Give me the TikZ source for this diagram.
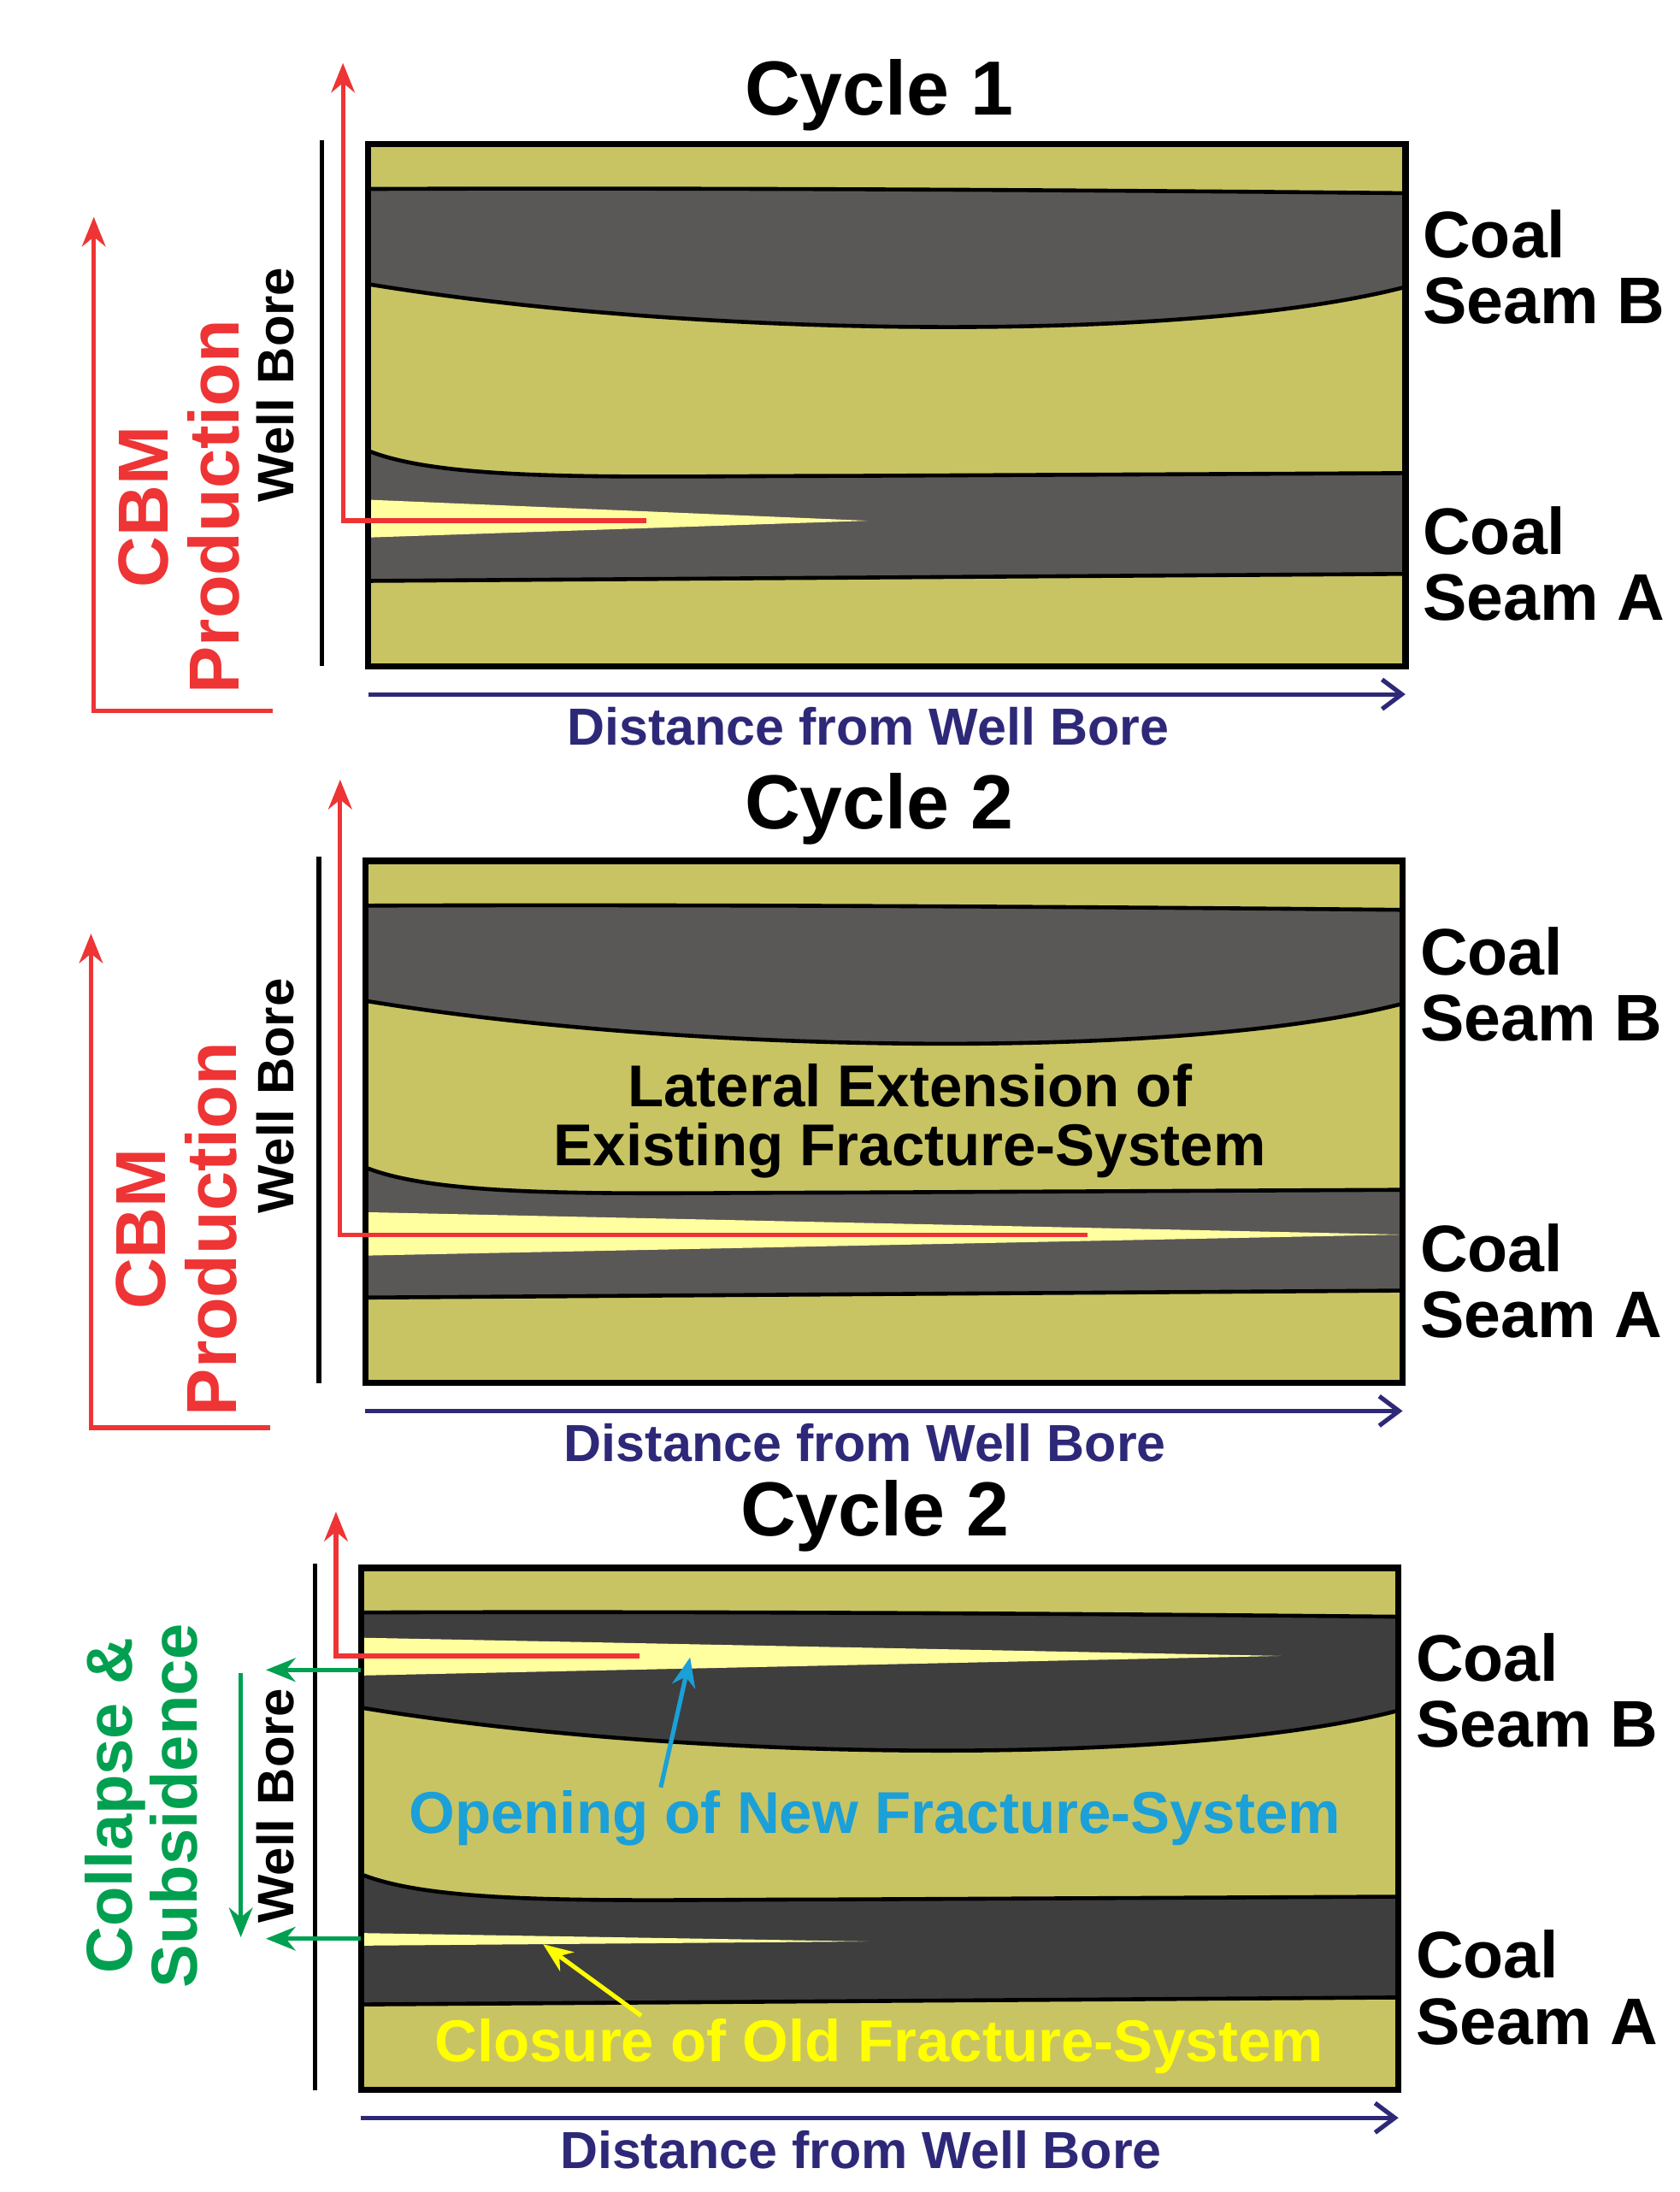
\documentclass[tikz,border=0pt]{standalone}
\usepackage{fontspec}
\setmainfont{Liberation Sans}
\usetikzlibrary{arrows.meta}
\definecolor{olive}{RGB}{200,196,100}
\definecolor{coal}{RGB}{90,88,86}
\definecolor{coaldk}{RGB}{62,62,62}
\definecolor{frac}{RGB}{255,255,160}
\definecolor{myred}{RGB}{238,52,52}
\definecolor{navy}{RGB}{46,40,120}
\definecolor{mygreen}{RGB}{0,160,80}
\definecolor{myblue}{RGB}{27,160,216}
\definecolor{myyellow}{RGB}{255,255,0}
\tikzset{
 fs/.style={font=\fontsize{#1}{#1}\selectfont\bfseries},
 bound/.style={line width=4pt},
 frame/.style={line width=6.5pt},
 arr/.style={line width=4.5pt,-{Stealth[length=30pt,width=24pt]}},
 vee/.style={line width=4.5pt,-{Straight Barb[length=20pt,width=30pt]}},
}
\newcommand{\geol}[1]{%
 \fill[olive] (263,103) rectangle (1004,476);
 \fill[#1] (263,135) .. controls (500,134) and (800,136) .. (1004,138) -- (1004,205) .. controls (850,245) and (500,242) .. (263,203) -- cycle;
 \draw[bound] (263,135) .. controls (500,134) and (800,136) .. (1004,138);
 \draw[bound] (1004,205) .. controls (850,245) and (500,242) .. (263,203);
 \fill[#1] (263,322) .. controls (320,345) and (450,340) .. (600,340) -- (1004,338) -- (1004,410) -- (263,415) -- cycle;
 \draw[bound] (263,322) .. controls (320,345) and (450,340) .. (600,340) -- (1004,338);
 \draw[bound] (1004,410) -- (263,415);
}
\newcommand{\labels}[1]{%
 \draw[frame] (263,103) rectangle (1004,476);
 \node[fs=67,anchor=west,align=left] (sb#1) at (1014,191) {Coal\\Seam B};
 \node[fs=67,anchor=west,align=left] (sa#1) at (1014,403) {Coal\\Seam A};
 \coordinate (d0#1) at (263,496); \coordinate (d1#1) at (1004,496);
 \draw[vee,navy] (d0#1) -- (d1#1);
 \node[fs=53,navy] (dt#1) at (620,519) {Distance from Well Bore};
 \coordinate (w0#1) at (230,100); \coordinate (w1#1) at (230,476);
 \draw[line width=5pt] (w0#1) -- (w1#1);
}
\begin{document}
\begin{tikzpicture}[x=0.05cm,y=-0.05cm]
\useasboundingbox (0,0) rectangle (1200,1566);
\fill[white] (0,0) rectangle (1200,1566);
% ---------- Panel 1
\begin{scope}
\geol{coal}
\fill[frac] (263,357) -- (620,372) -- (263,384) -- cycle;
\labels{a}
\node[fs=78] (t1) at (628,68) {Cycle 1};
\coordinate (r0) at (462,372); \coordinate (r1) at (245,372); \coordinate (r2) at (245,45);
\draw[arr,myred] (r0) -- (r1) -- (r2);
\node[fs=52,rotate=90] (wb1) at (197,275) {Well Bore};
\node[fs=72,myred,rotate=90,align=center] (cbm1) at (128,362) {CBM\\Production};
\coordinate (c0) at (195,508); \coordinate (c1) at (67,508); \coordinate (c2) at (67,155);
\draw[arr,myred] (c0) -- (c1) -- (c2);
\end{scope}
% ---------- Panel 2
\begin{scope}[shift={(-2,512)}]
\geol{coal}
\fill[frac] (263,354) -- (1004,370) -- (263,385) -- cycle;
\labels{b}
\node[fs=78] (t2) at (630,66) {Cycle 2};
\coordinate (s0) at (779,370); \coordinate (s1) at (245,370); \coordinate (s2) at (245,45);
\draw[arr,myred] (s0) -- (s1) -- (s2);
\node[fs=52,rotate=90] (wb2) at (199,271) {Well Bore};
\node[fs=72,myred,rotate=90,align=center] (cbm2) at (128,366) {CBM\\Production};
\coordinate (e0) at (195,508); \coordinate (e1) at (67,508); \coordinate (e2) at (67,155);
\draw[arr,myred] (e0) -- (e1) -- (e2);
\node[fs=60,align=center] (lat) at (652,289) {Lateral Extension of\\Existing Fracture-System};
\end{scope}
% ---------- Panel 3
\begin{scope}[shift={(-5,1017)}]
\geol{coaldk}
\fill[frac] (263,153) -- (920,166) -- (263,180) -- cycle;
\fill[frac] (263,364) -- (625,370) -- (263,373) -- cycle;
\labels{c}
\node[fs=78] (t3) at (630,66) {Cycle 2};
\coordinate (u0) at (462,166); \coordinate (u1) at (245,166); \coordinate (u2) at (245,63);
\draw[arr,myred] (u0) -- (u1) -- (u2);
\coordinate (g0) at (263,176); \coordinate (g1) at (195,176);
\coordinate (g2) at (263,368); \coordinate (g3) at (195,368);
\draw[arr,mygreen] (g0) -- (g1);
\draw[arr,mygreen] (g2) -- (g3);
\coordinate (g4) at (177,178); \coordinate (g5) at (177,367);
\draw[arr,mygreen] (g4) -- (g5);
\node[fs=52,rotate=90] (wb3) at (202,273) {Well Bore};
\node[fs=66,mygreen,rotate=90,align=center] (col) at (106,273) {Collapse \&\\Subsidence};
\node[fs=60,myblue] (open) at (630,282) {Opening of New Fracture-System};
\coordinate (b0) at (477,260); \coordinate (b1) at (498,167);
\draw[arr,myblue] (b0) -- (b1);
\node[fs=60,myyellow] (clo) at (633,445) {Closure of Old Fracture-System};
\coordinate (y0) at (463,423); \coordinate (y1) at (393,372);
\draw[arr,myyellow] (y0) -- (y1);
\end{scope}
\end{tikzpicture}
\end{document}
